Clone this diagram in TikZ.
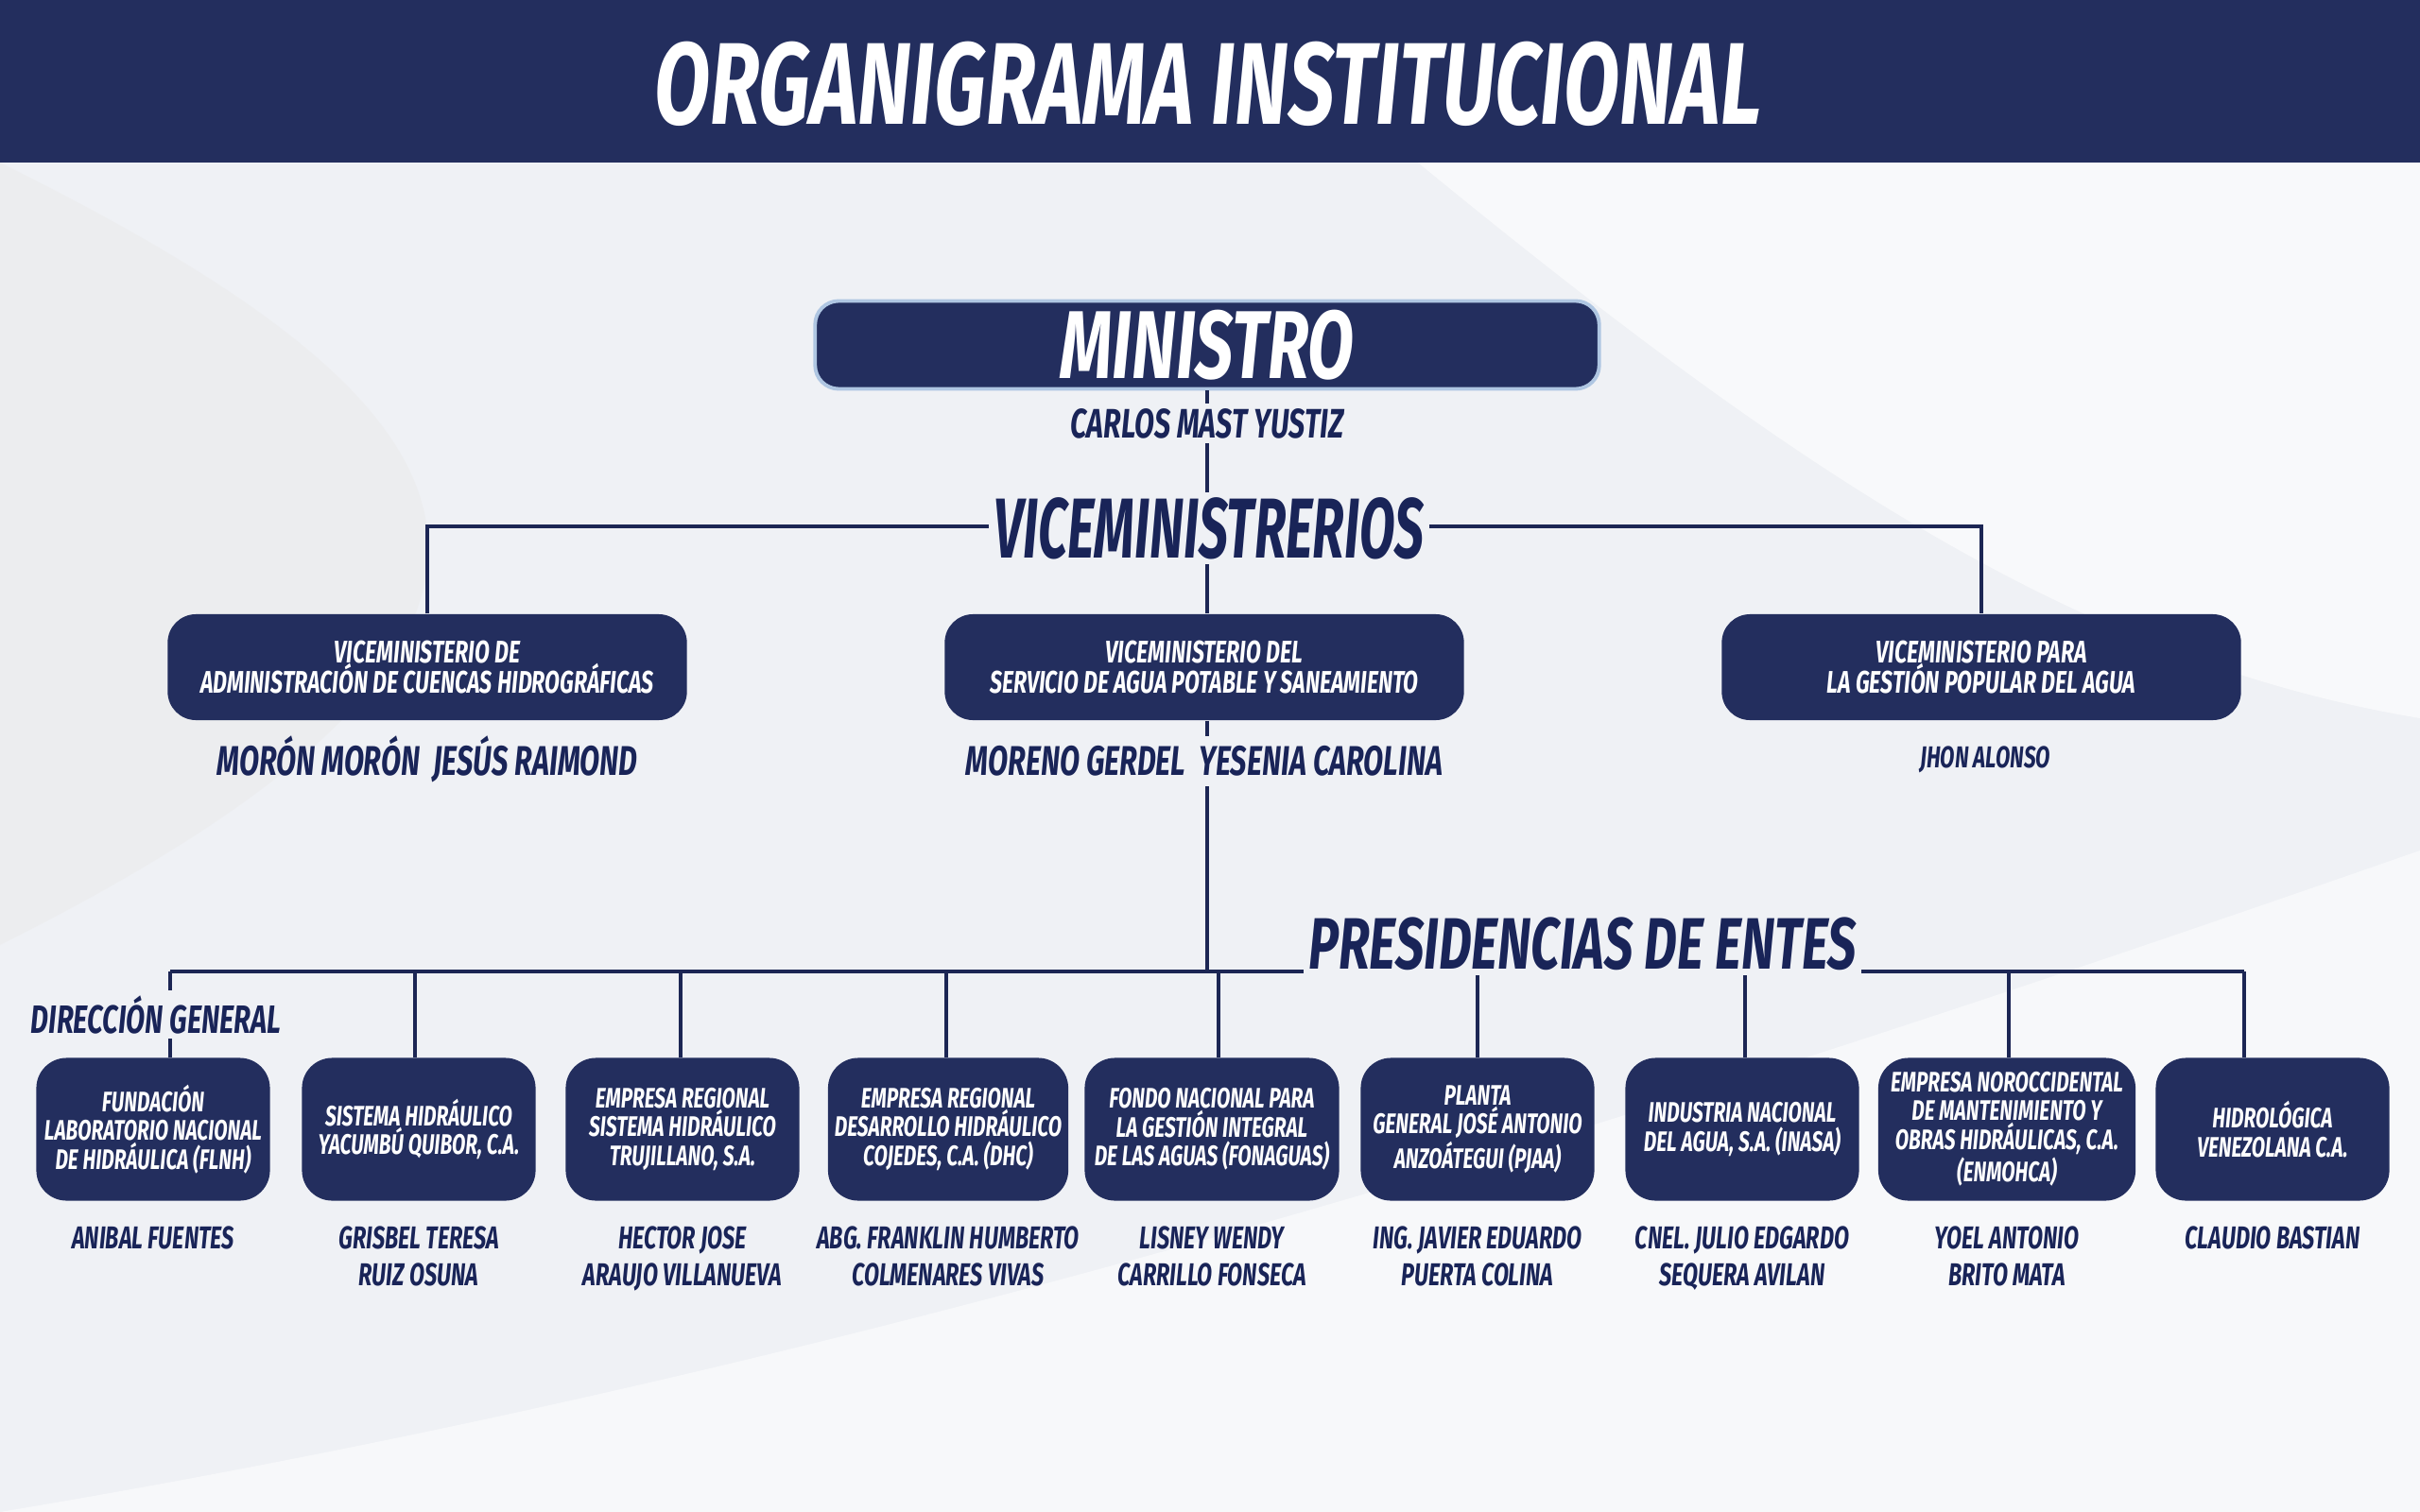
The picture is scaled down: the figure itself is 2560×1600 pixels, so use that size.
\documentclass[tikz,border=0pt]{standalone}
\usepackage{fontspec}
\newfontfamily\orgfont[FakeStretch=0.7]{Fira Sans}
\newfontfamily\orgnarrow[FakeStretch=0.61]{Fira Sans}
\usepackage{tikz}
\usetikzlibrary{positioning,calc}
\definecolor{ognavy}{RGB}{35,46,94}
\definecolor{ogline}{RGB}{28,38,84}
\definecolor{ogtext}{RGB}{25,36,88}
\definecolor{ogback}{RGB}{239,241,245}
\definecolor{ogglow}{RGB}{175,198,226}
\tikzset{
    caja/.style={
        fill=ognavy,rounded corners=#1,text=white,align=center,
        inner sep=2pt
    },
    caja/.default=0.32cm,
    ente/.style={
        caja,minimum width=2.47cm,minimum height=1.51cm,
        font=\orgfont\bfseries\itshape\fontsize{8.5}{8.6}\selectfont
    },
    vice/.style={
        caja=0.3cm,minimum width=5.49cm,minimum height=1.12cm,
        font=\orgfont\bfseries\itshape\fontsize{9.4}{9.3}\selectfont
    },
    rotulo/.style={
        fill=ogback,inner sep=1.5pt,text=ogtext,anchor=base,
        font=\orgfont\bfseries\itshape\fontsize{#1}{#1}\selectfont
    },
    nombre/.style={
        inner sep=0pt,text=ogtext,align=center,
        font=\orgfont\bfseries\itshape\fontsize{9.5}{11.1}\selectfont
    },
    link/.style={draw=ogline,line width=1.15pt}
}

\begin{document}
\begin{tikzpicture}[x=0.01cm,y=-0.01cm]

% fondo y cabecera
\fill[ogback] (0,0) rectangle (2560,1600);
\fill[black!8,opacity=0.5] (0,172) .. controls (500,420) and (700,650) .. (0,1000) -- cycle;
\fill[white,opacity=0.6] (1500,172) .. controls (1900,500) and (2200,700) .. (2560,760) -- (2560,172) -- cycle;
\fill[white,opacity=0.5] (0,1600) .. controls (900,1450) and (1700,1200) .. (2560,900) -- (2560,1600) -- cycle;
\useasboundingbox (0,0) rectangle (2560,1600);
\fill[ognavy] (0,0) rectangle (2560,172);
\node[anchor=base,text=white,font=\orgfont\bfseries\itshape\fontsize{35}{35}\selectfont]
    (titulo) at (1278,132) {ORGANIGRAMA INSTITUCIONAL};

% ministro
\node[caja=0.25cm,draw=ogglow,line width=1.1pt,minimum width=8.29cm,minimum height=0.93cm]
    (min) at (1277,365) {};
\node[anchor=base,text=white,font=\orgfont\bfseries\itshape\fontsize{29}{29}\selectfont]
    (mintxt) at (1277,400) {MINISTRO};

% viceministerios
\node[vice] (v1) at (452,706) {VICEMINISTERIO DE\\ADMINISTRACIÓN DE CUENCAS HIDROGRÁFICAS};
\node[vice] (v2) at (1274,706) {VICEMINISTERIO DEL\\SERVICIO DE AGUA POTABLE Y SANEAMIENTO};
\node[vice] (v3) at (2096,706) {VICEMINISTERIO PARA\\LA GESTIÓN POPULAR DEL AGUA};

% entes
\node[ente] (e1) at (162,1195) {FUNDACIÓN\\LABORATORIO NACIONAL\\DE HIDRÁULICA (FLNH)};
\node[ente] (e2) at (443,1195) {SISTEMA HIDRÁULICO\\YACUMBÚ QUIBOR, C.A.};
\node[ente] (e3) at (722,1195) {EMPRESA REGIONAL\\SISTEMA HIDRÁULICO\\TRUJILLANO, S.A.};
\node[ente] (e4) at (1003,1195) {EMPRESA REGIONAL\\DESARROLLO HIDRÁULICO\\COJEDES, C.A. (DHC)};
\node[ente,minimum width=2.69cm] (e5) at (1282,1195) {FONDO NACIONAL PARA\\LA GESTIÓN INTEGRAL\\DE LAS AGUAS (FONAGUAS)};
\node[ente] (e6) at (1563,1195) {PLANTA\\GENERAL JOSÉ ANTONIO\\ANZOÁTEGUI (PJAA)};
\node[ente] (e7) at (1843,1195) {INDUSTRIA NACIONAL\\DEL AGUA, S.A. (INASA)};
\node[ente,minimum width=2.72cm] (e8) at (2123,1195) {EMPRESA NOROCCIDENTAL\\DE MANTENIMIENTO Y\\OBRAS HIDRÁULICAS, C.A.\\(ENMOHCA)};
\node[ente] (e9) at (2404,1195) {HIDROLÓGICA\\VENEZOLANA C.A.};

% conectores
\coordinate (vbar) at (1277,557);
\coordinate (bus) at (1277,1028);
\draw[link] (min.south) -- (min.south |- v2.north);
\draw[link] (v1.north) -- (v1.north |- vbar) -- (v3.north |- vbar) -- (v3.north);
\draw[link] (min.south |- v2.south) -- (min.south |- bus);
\foreach \b/\dx in {e1/18,e2/-4,e3/-2,e4/-2,e5/7,e6/0,e7/3,e8/2,e9/-30}{
    \draw[link] ($(\b.north)+(\dx,0)$) coordinate (d-\b) -- (d-\b |- bus);
}
\draw[link] (d-e1 |- bus) -- (d-e9 |- bus);

% rotulos
\node[rotulo=12.4] (carlos) at (1277,463) {CARLOS MAST YUSTIZ};
\node[rotulo=25.6,font=\orgnarrow\bfseries\itshape\fontsize{25.6}{25.6}\selectfont]
    (vices) at (1279,590) {VICEMINISTRERIOS};
\node[rotulo=21.9] (presid) at (1674,1025) {PRESIDENCIAS DE ENTES};
\node[rotulo=11.9] (direc) at (165,1093) {DIRECCIÓN GENERAL};

% nombres
\node[nombre,anchor=base,font=\orgfont\bfseries\itshape\fontsize{12.5}{12.5}\selectfont]
    (nv1) at ($(v1.south)+(0,58)$) {MORÓN MORÓN\ \ JESÚS RAIMOND};
\node[nombre,anchor=base,fill=ogback,inner sep=3pt,font=\orgfont\bfseries\itshape\fontsize{12.5}{12.5}\selectfont]
    (nv2) at ($(v2.south)+(0,58)$) {MORENO GERDEL\ \ YESENIA CAROLINA};
\node[nombre,anchor=base,font=\orgfont\bfseries\itshape\fontsize{9.1}{9.1}\selectfont]
    (nv3) at ($(v3.south)+(4,50)$) {JHON ALONSO};

\node[nombre,below=0.26cm of e1] (n1) {ANIBAL FUENTES};
\node[nombre,below=0.26cm of e2] (n2) {GRISBEL TERESA\\RUIZ OSUNA};
\node[nombre,below=0.26cm of e3] (n3) {HECTOR JOSE\\ARAUJO VILLANUEVA};
\node[nombre,below=0.26cm of e4] (n4) {ABG. FRANKLIN HUMBERTO\\COLMENARES VIVAS};
\node[nombre,below=0.26cm of e5] (n5) {LISNEY WENDY\\CARRILLO FONSECA};
\node[nombre,below=0.26cm of e6] (n6) {ING. JAVIER EDUARDO\\PUERTA COLINA};
\node[nombre,below=0.26cm of e7] (n7) {CNEL. JULIO EDGARDO\\SEQUERA AVILAN};
\node[nombre,below=0.26cm of e8] (n8) {YOEL ANTONIO\\BRITO MATA};
\node[nombre,below=0.26cm of e9] (n9) {CLAUDIO BASTIAN};

\end{tikzpicture}
\end{document}
